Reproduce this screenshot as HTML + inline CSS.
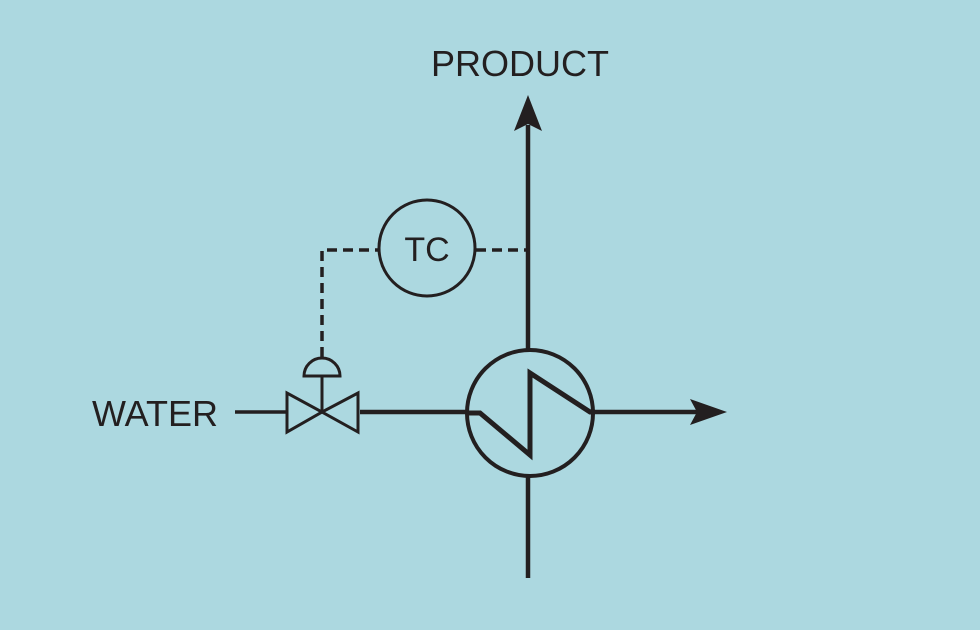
<!DOCTYPE html>
<html><head><style>html,body{margin:0;padding:0;background:#acd8e0}svg{display:block}</style></head>
<body>
<svg width="980" height="630" viewBox="0 0 980 630" xmlns="http://www.w3.org/2000/svg">
<rect width="980" height="630" fill="#acd8e0"/>
<g fill="none" stroke="#231f20" stroke-linejoin="miter">
<line x1="528" y1="125" x2="528" y2="350" stroke-width="4.5"/>
<line x1="528" y1="477" x2="528" y2="578" stroke-width="4.5"/>
<circle cx="530" cy="413" r="63" stroke-width="4"/>
<circle cx="427" cy="248" r="48" stroke-width="3"/>
<polyline points="466,413 480,413 530,455 530,373 590,412 595,412" stroke-width="5"/>
<line x1="593" y1="412" x2="700" y2="412" stroke-width="4.5"/>
<line x1="360" y1="412" x2="467" y2="412" stroke-width="4.5"/>
<line x1="235" y1="412" x2="287" y2="412" stroke-width="3.5"/>
<polygon points="287,393 287,432 322,412" stroke-width="3"/>
<polygon points="358,393 358,432 322,412" stroke-width="3"/>
<line x1="322" y1="412" x2="322" y2="376" stroke-width="3"/>
<path d="M304,376 A18,18 0 0 1 340,376 Z" stroke-width="3"/>
<polyline points="322,357 322,250 378,250" stroke-width="3.5" stroke-dasharray="10,6"/>
<line x1="476" y1="250" x2="528" y2="250" stroke-width="3.5" stroke-dasharray="10,6"/>
</g>
<polygon points="528,95 514,131 528,124 542,131" fill="#231f20"/>
<polygon points="727,412 690,399 697,412 690,425" fill="#231f20"/>
<g font-family="Liberation Sans, sans-serif" fill="#231f20">
<text x="431" y="76" font-size="36">PRODUCT</text>
<text x="92" y="426" font-size="36">WATER</text>
<text x="427" y="261" font-size="34" text-anchor="middle">TC</text>
</g>
</svg>
</body></html>
